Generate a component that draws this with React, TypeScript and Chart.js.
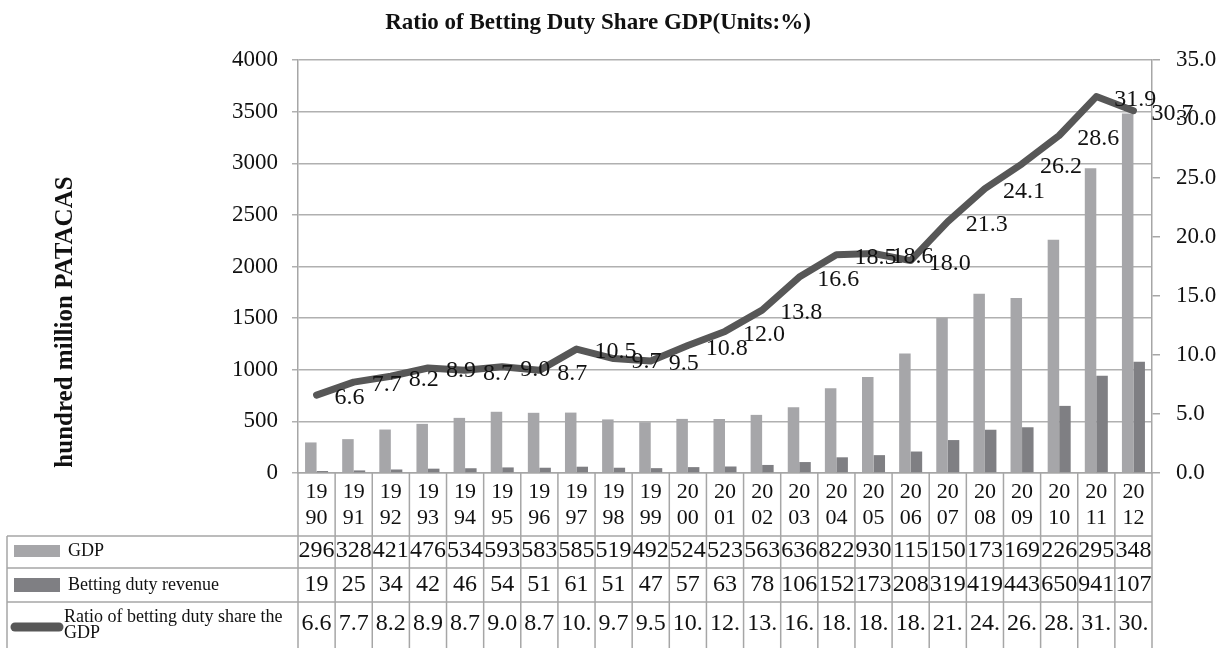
import React, { useEffect, useRef } from "react";
import { Chart, registerables } from "chart.js";

Chart.register(...registerables);

const years = ["1990","1991","1992","1993","1994","1995","1996","1997","1998","1999","2000","2001","2002","2003","2004","2005","2006","2007","2008","2009","2010","2011","2012"];
const gdp = [296,328,421,476,534,593,583,585,519,492,524,523,563,636,822,930,1157,1503,1736,1695,2260,2951,3481];
const bettingDuty = [19,25,34,42,46,54,51,61,51,47,57,63,78,106,152,173,208,319,419,443,650,941,1078];
const ratio = [6.6,7.7,8.2,8.9,8.7,9.0,8.7,10.5,9.7,9.5,10.8,12.0,13.8,16.6,18.5,18.6,18.0,21.3,24.1,26.2,28.6,31.9,30.7];
const seriesNames = ["GDP", "Betting duty revenue", "Ratio of betting duty share the GDP"];
const chartTitle = "Ratio of Betting Duty Share GDP(Units:%)";
const leftAxisTitle = "hundred million PATACAS";

const FONT = '"Liberation Serif", "Times New Roman", serif';
const GDP_COLOR = "#a6a6a9";
const DUTY_COLOR = "#7f7f83";
const LINE_COLOR = "#575757";
const GRID = "#b0b0b0";
const TEXT = "#111111";

const tablePlugin = {
  id: "tableAndLabels",
  afterDatasetsDraw(chart: any) {
    const ctx = chart.ctx;
    const meta = chart.getDatasetMeta(2);
    ctx.save();
    ctx.font = `24px ${FONT}`;
    ctx.fillStyle = TEXT;
    ctx.textAlign = "left";
    ctx.textBaseline = "middle";
    meta.data.forEach((pt: any, i: number) => {
      ctx.fillText(ratio[i].toFixed(1), pt.x + 18, pt.y + 3);
    });
    ctx.restore();
  },
  afterDraw(chart: any) {
    const { ctx, chartArea, scales } = chart;
    const xs = scales.x;
    const n = years.length;
    const cw = (chartArea.right - chartArea.left) / n;
    const axisY = chartArea.bottom;
    const H = chart.height;
    const rowLines = [536, 568, 602];
    const rowCenters = [551, 585, 624];
    const tableLeft = 7;

    ctx.save();
    ctx.strokeStyle = "#a6a6a6";
    ctx.lineWidth = 1.5;
    for (let k = 0; k <= n; k++) {
      const xk = chartArea.left + k * cw;
      ctx.beginPath();
      ctx.moveTo(xk, axisY);
      ctx.lineTo(xk, H);
      ctx.stroke();
    }
    rowLines.forEach((y) => {
      ctx.beginPath();
      ctx.moveTo(tableLeft, y);
      ctx.lineTo(chartArea.right, y);
      ctx.stroke();
    });
    ctx.beginPath();
    ctx.moveTo(tableLeft, rowLines[0]);
    ctx.lineTo(tableLeft, H);
    ctx.stroke();

    ctx.fillStyle = TEXT;
    ctx.textAlign = "center";
    ctx.textBaseline = "middle";
    ctx.font = `22px ${FONT}`;
    years.forEach((yr, i) => {
      const cx = xs.getPixelForValue(i);
      ctx.fillText(yr.slice(0, 2), cx, 492);
      ctx.fillText(yr.slice(2), cx, 518);
    });

    ctx.font = `24px ${FONT}`;
    const rowsText = [
      gdp.map((v) => String(v).slice(0, 3)),
      bettingDuty.map((v) => String(v).slice(0, 3)),
      ratio.map((v) => v.toFixed(1).slice(0, 3)),
    ];
    rowsText.forEach((row, r) => {
      row.forEach((t, i) => {
        ctx.fillText(t, xs.getPixelForValue(i), rowCenters[r]);
      });
    });

    ctx.fillStyle = GDP_COLOR;
    ctx.fillRect(14, rowCenters[0] - 6, 46, 12);
    ctx.fillStyle = DUTY_COLOR;
    ctx.fillRect(14, rowCenters[1] - 7, 46, 14);
    ctx.strokeStyle = LINE_COLOR;
    ctx.lineWidth = 9;
    ctx.lineCap = "round";
    ctx.beginPath();
    ctx.moveTo(15, 627);
    ctx.lineTo(59, 627);
    ctx.stroke();

    ctx.fillStyle = TEXT;
    ctx.textAlign = "left";
    ctx.font = `18px ${FONT}`;
    ctx.fillText(seriesNames[0], 68, rowCenters[0]);
    ctx.fillText(seriesNames[1], 68, rowCenters[1]);
    const words = seriesNames[2].split(" ");
    ctx.fillText(words.slice(0, -1).join(" "), 64, 617);
    ctx.fillText(words[words.length - 1], 64, 633);

    ctx.textAlign = "center";
    ctx.font = `bold 23px ${FONT}`;
    ctx.fillText(chartTitle, 598, 23);
    ctx.font = `bold 25px ${FONT}`;
    ctx.translate(66, 322);
    ctx.rotate(-Math.PI / 2);
    ctx.fillText(leftAxisTitle, 0, 0);
    ctx.restore();
  },
};

export default function App() {
  const ref = useRef<HTMLCanvasElement | null>(null);
  useEffect(() => {
    if (!ref.current) return;
    const chart = new Chart(ref.current, {
      type: "bar",
      data: {
        labels: years,
        datasets: [
          {
            type: "bar",
            label: seriesNames[0],
            data: gdp,
            backgroundColor: GDP_COLOR,
            yAxisID: "y",
            categoryPercentage: 0.62,
            barPercentage: 1,
            order: 1,
          },
          {
            type: "bar",
            label: seriesNames[1],
            data: bettingDuty,
            backgroundColor: DUTY_COLOR,
            yAxisID: "y",
            categoryPercentage: 0.62,
            barPercentage: 1,
            order: 1,
          },
          {
            type: "line",
            label: seriesNames[2],
            data: ratio,
            borderColor: LINE_COLOR,
            backgroundColor: LINE_COLOR,
            borderWidth: 7,
            pointRadius: 0,
            tension: 0,
            borderCapStyle: "round",
            borderJoinStyle: "round",
            yAxisID: "y1",
            order: 0,
          } as any,
        ],
      },
      options: {
        responsive: false,
        animation: false,
        layout: { padding: { top: 60, left: 0, right: 0, bottom: 0 } },
        plugins: {
          legend: { display: false },
          title: { display: false },
          tooltip: { enabled: false },
        },
        scales: {
          x: {
            type: "category",
            offset: true,
            grid: { display: true, drawOnChartArea: false, drawTicks: false },
            ticks: { display: false },
            border: { display: true, color: "#a6a6a6", width: 1.5 },
            afterFit: (s: any) => {
              s.height = 175;
            },
          },
          y: {
            position: "left",
            min: 0,
            max: 4000,
            ticks: {
              stepSize: 500,
              callback: (v: any) => String(v),
              font: { family: FONT, size: 23 },
              color: TEXT,
              padding: 14,
            },
            grid: { color: GRID, lineWidth: 1.5, tickLength: 6 },
            border: { color: "#a6a6a6", width: 1.5 },
            afterFit: (s: any) => {
              s.width = 298;
            },
          },
          y1: {
            position: "right",
            min: 0,
            max: 35,
            ticks: {
              stepSize: 5,
              callback: (v: any) => Number(v).toFixed(1),
              font: { family: FONT, size: 23 },
              color: TEXT,
              padding: 16,
            },
            grid: { drawOnChartArea: false, color: "#a6a6a6", lineWidth: 1.5, tickLength: 8 },
            border: { color: "#a6a6a6", width: 1.5 },
            afterFit: (s: any) => {
              s.width = 77;
            },
          },
        },
      } as any,
      plugins: [tablePlugin],
    });
    return () => chart.destroy();
  }, []);
  return (
    <div style={{ position: "absolute", left: 0, top: 0, width: 1229, height: 648, background: "#fff" }}>
      <canvas ref={ref} width={1229} height={648} style={{ display: "block" }} />
    </div>
  );
}
